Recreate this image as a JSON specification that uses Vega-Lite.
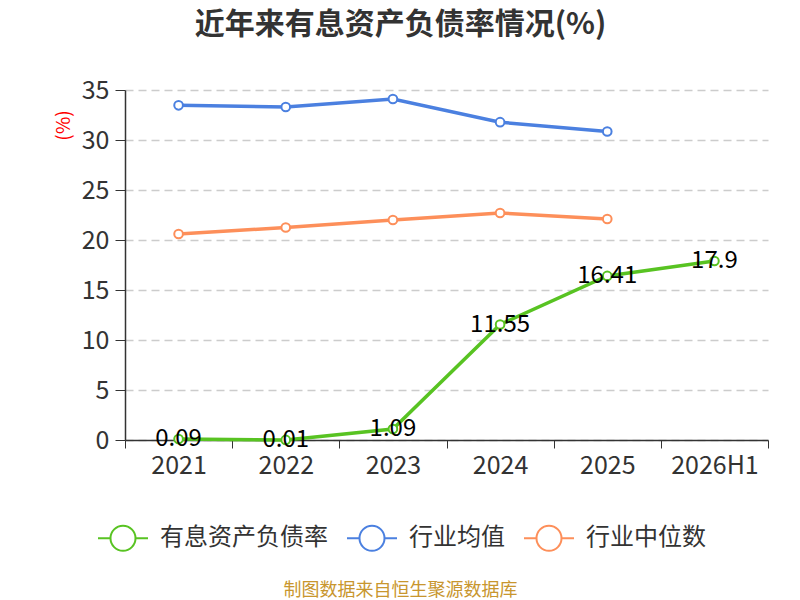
{
  "$schema": "https://vega.github.io/schema/vega-lite/v6.json",
  "width": 643,
  "height": 350,
  "autosize": {"type": "none"},
  "padding": {"left": 125, "top": 90, "right": 32, "bottom": 160},
  "background": "white",
  "config": {
    "font": "Noto Sans CJK SC",
    "view": {"stroke": null},
    "axis": {"labelColor": "#333", "domainColor": "#333", "tickColor": "#333", "labelFont": "Noto Sans CJK SC"}
  },
  "title": {
    "text": "近年来有息资产负债率情况(%)",
    "fontSize": 30,
    "fontWeight": "bold",
    "color": "#333",
    "dx": -46,
    "offset": 38
  },
  "data": {
    "values": [
      {"year": "2021", "series": "有息资产负债率", "value": 0.09},
      {"year": "2022", "series": "有息资产负债率", "value": 0.01},
      {"year": "2023", "series": "有息资产负债率", "value": 1.09},
      {"year": "2024", "series": "有息资产负债率", "value": 11.55},
      {"year": "2025", "series": "有息资产负债率", "value": 16.41},
      {"year": "2026H1", "series": "有息资产负债率", "value": 17.9},
      {"year": "2021", "series": "行业均值", "value": 33.47},
      {"year": "2022", "series": "行业均值", "value": 33.3},
      {"year": "2023", "series": "行业均值", "value": 34.1},
      {"year": "2024", "series": "行业均值", "value": 31.78},
      {"year": "2025", "series": "行业均值", "value": 30.85},
      {"year": "2021", "series": "行业中位数", "value": 20.6},
      {"year": "2022", "series": "行业中位数", "value": 21.25},
      {"year": "2023", "series": "行业中位数", "value": 22.0},
      {"year": "2024", "series": "行业中位数", "value": 22.7},
      {"year": "2025", "series": "行业中位数", "value": 22.1}
    ]
  },
  "encoding": {
    "x": {
      "field": "year",
      "type": "ordinal",
      "sort": ["2021", "2022", "2023", "2024", "2025", "2026H1"],
      "scale": {"type": "band", "paddingInner": 0, "paddingOuter": 0},
      "axis": {
        "title": "制图数据来自恒生聚源数据库",
        "titleColor": "#c8962e",
        "titleFontSize": 18,
        "titleFontWeight": "normal",
        "titleX": 275,
        "titleY": 150,
        "titleAlign": "center",
        "titleBaseline": "middle",
        "labelAngle": 0,
        "labelFontSize": 25,
        "labelPadding": 5,
        "tickBand": "extent",
        "tickSize": 8,
        "domainWidth": 1.5,
        "grid": false
      }
    },
    "y": {
      "field": "value",
      "type": "quantitative",
      "scale": {"domain": [0, 35]},
      "axis": {
        "title": "(%)",
        "titleColor": "#ff0000",
        "titleFontSize": 19,
        "titleFontWeight": "normal",
        "titleX": -62,
        "titleY": 35,
        "titleAlign": "center",
        "titleBaseline": "middle",
        "values": [0, 5, 10, 15, 20, 25, 30, 35],
        "labelFontSize": 25,
        "labelPadding": 6,
        "tickSize": 10,
        "domainWidth": 1.5,
        "gridColor": "#cccccc",
        "gridDash": [8, 5],
        "gridWidth": 1.5
      }
    },
    "color": {
      "field": "series",
      "type": "nominal",
      "scale": {
        "domain": ["有息资产负债率", "行业均值", "行业中位数"],
        "range": ["#58c322", "#4b80e0", "#fd8f5a"]
      },
      "legend": {
        "title": null,
        "orient": "none",
        "direction": "horizontal",
        "legendX": -28,
        "legendY": 422,
        "labelFontSize": 24,
        "labelLimit": 0,
        "labelColor": "#333",
        "labelOffset": 11,
        "columnPadding": 15,
        "symbolType": "M-1,0L-0.5,0M0.5,0L1,0M0.5,0A0.5,0.5,0,1,1,-0.5,0A0.5,0.5,0,1,1,0.5,0",
        "symbolSize": 2500,
        "symbolStrokeWidth": 2,
        "symbolFillColor": "white"
      }
    }
  },
  "layer": [
    {"mark": {"type": "line", "strokeWidth": 3.5}},
    {"mark": {"type": "point", "shape": "circle", "filled": false, "fill": "white", "fillOpacity": 1, "strokeWidth": 2, "size": 75, "opacity": 1}},
    {
      "transform": [{"filter": "datum.series === '有息资产负债率'"}],
      "mark": {"type": "text", "fontSize": 24, "color": "#000", "align": "center", "baseline": "middle"},
      "encoding": {
        "text": {"field": "value", "type": "quantitative"},
        "color": {"value": "#000"}
      }
    }
  ]
}
